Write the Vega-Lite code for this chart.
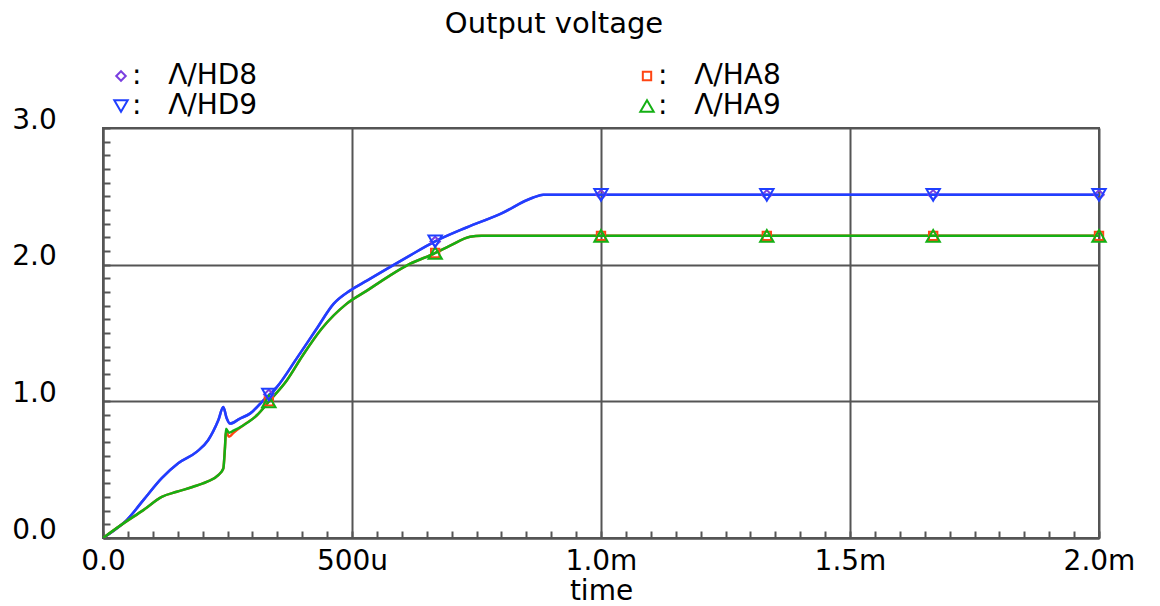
{
  "$schema": "https://vega.github.io/schema/vega-lite/v6.json",
  "width": 996,
  "height": 410,
  "autosize": {"type": "none"},
  "padding": {"left": 103, "top": 128, "right": 61, "bottom": 68},
  "background": "white",
  "title": {"text": "Output voltage", "font": "DejaVu Sans", "fontSize": 29, "fontWeight": "normal", "color": "black", "anchor": "middle", "frame": "group", "dx": -47, "dy": 26, "baseline": "bottom", "offset": 20},
  "config": {
    "view": {"stroke": "#555555", "strokeWidth": 2},
    "axis": {"domainColor": "#555555", "domainWidth": 2, "gridColor": "#555555", "gridWidth": 2, "tickColor": "#555555", "tickWidth": 2, "labelFont": "DejaVu Sans", "labelFontSize": 28, "labelColor": "black"}
  },
  "datasets": {
    "curves": [
      {"s": "HD8", "t": 0, "v": 0}, {"s": "HD8", "t": 0.02, "v": 0.05}, {"s": "HD8", "t": 0.0476, "v": 0.131}, {"s": "HD8", "t": 0.081, "v": 0.277}, {"s": "HD8", "t": 0.118, "v": 0.438}, {"s": "HD8", "t": 0.151, "v": 0.547}, {"s": "HD8", "t": 0.188, "v": 0.63}, {"s": "HD8", "t": 0.211, "v": 0.715}, {"s": "HD8", "t": 0.2315, "v": 0.861}, {"s": "HD8", "t": 0.2416, "v": 0.958}, {"s": "HD8", "t": 0.248, "v": 0.88}, {"s": "HD8", "t": 0.255, "v": 0.837}, {"s": "HD8", "t": 0.275, "v": 0.874}, {"s": "HD8", "t": 0.295, "v": 0.91}, {"s": "HD8", "t": 0.322, "v": 1.007}, {"s": "HD8", "t": 0.349, "v": 1.104}, {"s": "HD8", "t": 0.39, "v": 1.32}, {"s": "HD8", "t": 0.429, "v": 1.531}, {"s": "HD8", "t": 0.463, "v": 1.713}, {"s": "HD8", "t": 0.496, "v": 1.81}, {"s": "HD8", "t": 0.53, "v": 1.883}, {"s": "HD8", "t": 0.57, "v": 1.969}, {"s": "HD8", "t": 0.616, "v": 2.066}, {"s": "HD8", "t": 0.663, "v": 2.163}, {"s": "HD8", "t": 0.73, "v": 2.272}, {"s": "HD8", "t": 0.797, "v": 2.37}, {"s": "HD8", "t": 0.864, "v": 2.491}, {"s": "HD8", "t": 0.884, "v": 2.511}, {"s": "HD8", "t": 1.0, "v": 2.511}, {"s": "HD8", "t": 2.0, "v": 2.511},
      {"s": "HD9", "t": 0, "v": 0}, {"s": "HD9", "t": 0.02, "v": 0.05}, {"s": "HD9", "t": 0.0476, "v": 0.131}, {"s": "HD9", "t": 0.081, "v": 0.277}, {"s": "HD9", "t": 0.118, "v": 0.438}, {"s": "HD9", "t": 0.151, "v": 0.547}, {"s": "HD9", "t": 0.188, "v": 0.63}, {"s": "HD9", "t": 0.211, "v": 0.715}, {"s": "HD9", "t": 0.2315, "v": 0.861}, {"s": "HD9", "t": 0.2416, "v": 0.958}, {"s": "HD9", "t": 0.248, "v": 0.88}, {"s": "HD9", "t": 0.255, "v": 0.837}, {"s": "HD9", "t": 0.275, "v": 0.874}, {"s": "HD9", "t": 0.295, "v": 0.91}, {"s": "HD9", "t": 0.322, "v": 1.007}, {"s": "HD9", "t": 0.349, "v": 1.104}, {"s": "HD9", "t": 0.39, "v": 1.32}, {"s": "HD9", "t": 0.429, "v": 1.531}, {"s": "HD9", "t": 0.463, "v": 1.713}, {"s": "HD9", "t": 0.496, "v": 1.81}, {"s": "HD9", "t": 0.53, "v": 1.883}, {"s": "HD9", "t": 0.57, "v": 1.969}, {"s": "HD9", "t": 0.616, "v": 2.066}, {"s": "HD9", "t": 0.663, "v": 2.163}, {"s": "HD9", "t": 0.73, "v": 2.272}, {"s": "HD9", "t": 0.797, "v": 2.37}, {"s": "HD9", "t": 0.864, "v": 2.491}, {"s": "HD9", "t": 0.884, "v": 2.511}, {"s": "HD9", "t": 1.0, "v": 2.511}, {"s": "HD9", "t": 2.0, "v": 2.511},
      {"s": "HA8", "t": 0, "v": 0}, {"s": "HA8", "t": 0.041, "v": 0.107}, {"s": "HA8", "t": 0.081, "v": 0.204}, {"s": "HA8", "t": 0.118, "v": 0.301}, {"s": "HA8", "t": 0.148, "v": 0.338}, {"s": "HA8", "t": 0.181, "v": 0.375}, {"s": "HA8", "t": 0.208, "v": 0.411}, {"s": "HA8", "t": 0.2315, "v": 0.46}, {"s": "HA8", "t": 0.2416, "v": 0.509}, {"s": "HA8", "t": 0.245, "v": 0.667}, {"s": "HA8", "t": 0.247, "v": 0.78}, {"s": "HA8", "t": 0.253, "v": 0.74}, {"s": "HA8", "t": 0.262, "v": 0.77}, {"s": "HA8", "t": 0.282, "v": 0.825}, {"s": "HA8", "t": 0.309, "v": 0.898}, {"s": "HA8", "t": 0.335, "v": 1.007}, {"s": "HA8", "t": 0.369, "v": 1.153}, {"s": "HA8", "t": 0.4, "v": 1.33}, {"s": "HA8", "t": 0.439, "v": 1.531}, {"s": "HA8", "t": 0.489, "v": 1.713}, {"s": "HA8", "t": 0.53, "v": 1.81}, {"s": "HA8", "t": 0.576, "v": 1.92}, {"s": "HA8", "t": 0.616, "v": 2.005}, {"s": "HA8", "t": 0.663, "v": 2.078}, {"s": "HA8", "t": 0.697, "v": 2.139}, {"s": "HA8", "t": 0.737, "v": 2.204}, {"s": "HA8", "t": 0.76, "v": 2.211}, {"s": "HA8", "t": 2.0, "v": 2.211},
      {"s": "HA9", "t": 0, "v": 0}, {"s": "HA9", "t": 0.041, "v": 0.107}, {"s": "HA9", "t": 0.081, "v": 0.204}, {"s": "HA9", "t": 0.118, "v": 0.301}, {"s": "HA9", "t": 0.148, "v": 0.338}, {"s": "HA9", "t": 0.181, "v": 0.375}, {"s": "HA9", "t": 0.208, "v": 0.411}, {"s": "HA9", "t": 0.2315, "v": 0.46}, {"s": "HA9", "t": 0.2416, "v": 0.509}, {"s": "HA9", "t": 0.245, "v": 0.667}, {"s": "HA9", "t": 0.247, "v": 0.8}, {"s": "HA9", "t": 0.253, "v": 0.77}, {"s": "HA9", "t": 0.262, "v": 0.785}, {"s": "HA9", "t": 0.282, "v": 0.825}, {"s": "HA9", "t": 0.309, "v": 0.898}, {"s": "HA9", "t": 0.335, "v": 1.007}, {"s": "HA9", "t": 0.369, "v": 1.153}, {"s": "HA9", "t": 0.4, "v": 1.33}, {"s": "HA9", "t": 0.439, "v": 1.531}, {"s": "HA9", "t": 0.489, "v": 1.713}, {"s": "HA9", "t": 0.53, "v": 1.81}, {"s": "HA9", "t": 0.576, "v": 1.92}, {"s": "HA9", "t": 0.616, "v": 2.005}, {"s": "HA9", "t": 0.663, "v": 2.078}, {"s": "HA9", "t": 0.697, "v": 2.139}, {"s": "HA9", "t": 0.737, "v": 2.204}, {"s": "HA9", "t": 0.76, "v": 2.211}, {"s": "HA9", "t": 2.0, "v": 2.211}
    ],
    "markers": [
      {"s": "HD8", "t": 0.333, "v": 1.05}, {"s": "HD8", "t": 0.667, "v": 2.17}, {"s": "HD8", "t": 1.0, "v": 2.511}, {"s": "HD8", "t": 1.333, "v": 2.511}, {"s": "HD8", "t": 1.667, "v": 2.511}, {"s": "HD8", "t": 2.0, "v": 2.511},
      {"s": "HA8", "t": 0.333, "v": 1.0}, {"s": "HA8", "t": 0.667, "v": 2.085}, {"s": "HA8", "t": 1.0, "v": 2.211}, {"s": "HA8", "t": 1.333, "v": 2.211}, {"s": "HA8", "t": 1.667, "v": 2.211}, {"s": "HA8", "t": 2.0, "v": 2.211},
      {"s": "HD9", "t": 0.333, "v": 1.05}, {"s": "HD9", "t": 0.667, "v": 2.17}, {"s": "HD9", "t": 1.0, "v": 2.511}, {"s": "HD9", "t": 1.333, "v": 2.511}, {"s": "HD9", "t": 1.667, "v": 2.511}, {"s": "HD9", "t": 2.0, "v": 2.511},
      {"s": "HA9", "t": 0.333, "v": 1.0}, {"s": "HA9", "t": 0.667, "v": 2.085}, {"s": "HA9", "t": 1.0, "v": 2.211}, {"s": "HA9", "t": 1.333, "v": 2.211}, {"s": "HA9", "t": 1.667, "v": 2.211}, {"s": "HA9", "t": 2.0, "v": 2.211}
    ]
  },
  "layer": [
    {
      "data": {"name": "curves"},
      "transform": [{"filter": "datum.s == 'HD8'"}],
      "mark": {"type": "line", "color": "#7a3fe0", "strokeWidth": 2.5, "clip": true, "interpolate": "monotone"},
      "encoding": {
        "x": {"field": "t", "type": "quantitative", "scale": {"domain": [0, 2], "nice": false, "zero": false},
          "axis": {
            "values": [0, 0.05, 0.1, 0.15, 0.2, 0.25, 0.3, 0.35, 0.4, 0.45, 0.5, 0.55, 0.6, 0.65, 0.7, 0.75, 0.8, 0.85, 0.9, 0.95, 1, 1.05, 1.1, 1.15, 1.2, 1.25, 1.3, 1.35, 1.4, 1.45, 1.5, 1.55, 1.6, 1.65, 1.7, 1.75, 1.8, 1.85, 1.9, 1.95, 2],
            "tickCount": 200,
            "labelExpr": "abs(datum.value*2-round(datum.value*2))<0.001 ? (datum.value==0 ? '0.0' : (abs(datum.value-0.5)<0.001 ? '500u' : format(datum.value,'.1f')+'m')) : ''",
            "labelOverlap": false, "labelFlush": false, "labelBound": false,
            "tickSize": -7, "labelPadding": 16, "labelBaseline": "top", "labelAlign": "center",
            "grid": true,
            "gridOpacity": {"condition": {"test": "abs(datum.value*2-round(datum.value*2))<0.001", "value": 1}, "value": 0},
            "title": "time", "titleFont": "DejaVu Sans", "titleFontSize": 28, "titleFontWeight": "normal", "titleColor": "black", "titlePadding": 2
          }
        },
        "y": {"field": "v", "type": "quantitative", "scale": {"domain": [0, 3], "nice": false, "zero": false},
          "axis": {
            "values": [0, 0.1, 0.2, 0.3, 0.4, 0.5, 0.6, 0.7, 0.8, 0.9, 1, 1.1, 1.2, 1.3, 1.4, 1.5, 1.6, 1.7, 1.8, 1.9, 2, 2.1, 2.2, 2.3, 2.4, 2.5, 2.6, 2.7, 2.8, 2.9, 3],
            "tickCount": 200,
            "labelExpr": "abs(datum.value-round(datum.value))<0.001 ? format(datum.value,'.1f') : ''",
            "labelOverlap": false, "labelFlush": false, "labelBound": false,
            "tickSize": -7, "labelPadding": 76, "labelBaseline": "alphabetic", "labelAlign": "center",
            "grid": true,
            "gridOpacity": {"condition": {"test": "abs(datum.value-round(datum.value))<0.001", "value": 1}, "value": 0},
            "title": null
          }
        }
      }
    },
    {
      "data": {"name": "curves"},
      "transform": [{"filter": "datum.s == 'HD9'"}],
      "mark": {"type": "line", "color": "#1f3fff", "strokeWidth": 2.5, "clip": true, "interpolate": "monotone"},
      "encoding": {"x": {"field": "t", "type": "quantitative"}, "y": {"field": "v", "type": "quantitative"}}
    },
    {
      "data": {"name": "curves"},
      "transform": [{"filter": "datum.s == 'HA8'"}],
      "mark": {"type": "line", "color": "#ff4513", "strokeWidth": 2.5, "clip": true, "interpolate": "monotone"},
      "encoding": {"x": {"field": "t", "type": "quantitative"}, "y": {"field": "v", "type": "quantitative"}}
    },
    {
      "data": {"name": "curves"},
      "transform": [{"filter": "datum.s == 'HA9'"}],
      "mark": {"type": "line", "color": "#14b014", "strokeWidth": 2.5, "clip": true, "interpolate": "monotone"},
      "encoding": {"x": {"field": "t", "type": "quantitative"}, "y": {"field": "v", "type": "quantitative"}}
    },
    {
      "data": {"name": "markers"},
      "mark": {"type": "point", "filled": false, "strokeWidth": 2, "opacity": 1},
      "encoding": {
        "x": {"field": "t", "type": "quantitative"},
        "y": {"field": "v", "type": "quantitative"},
        "order": {"field": "s", "sort": "ascending"},
        "size": {"field": "s", "type": "nominal", "legend": null,
          "scale": {"type": "ordinal", "domain": ["HD8", "HD9", "HA8", "HA9"], "range": [90, 180, 70, 180]}},
        "color": {"field": "s", "type": "nominal",
          "scale": {"domain": ["HD8", "HD9", "HA8", "HA9"], "range": ["#7a3fe0", "#1f3fff", "#ff4513", "#14b014"]},
          "legend": {"title": null, "orient": "none", "legendX": 4, "legendY": -66, "columns": 2, "columnPadding": 375, "rowPadding": 2,
            "labelFont": "DejaVu Sans", "labelFontSize": 28, "labelExpr": "':\u00a0\u00a0\u00a0Λ/' + datum.label", "labelLimit": 400,
            "symbolSize": 100, "symbolStrokeWidth": 2, "labelOffset": -3,
            "encode": {"labels": {"update": {"fill": {"scale": "color", "field": "value"}}}}}
        },
        "shape": {"field": "s", "type": "nominal",
          "scale": {"domain": ["HD8", "HD9", "HA8", "HA9"], "range": ["diamond", "triangle-down", "square", "triangle-up"]},
          "legend": {"title": null, "orient": "none", "legendX": 4, "legendY": -66, "columns": 2, "columnPadding": 375, "rowPadding": 2,
            "labelFont": "DejaVu Sans", "labelFontSize": 28, "labelExpr": "':\u00a0\u00a0\u00a0Λ/' + datum.label", "labelLimit": 400,
            "symbolSize": 100, "symbolStrokeWidth": 2, "labelOffset": -3,
            "encode": {"labels": {"update": {"fill": {"scale": "color", "field": "value"}}}}}
        }
      }
    }
  ]
}
